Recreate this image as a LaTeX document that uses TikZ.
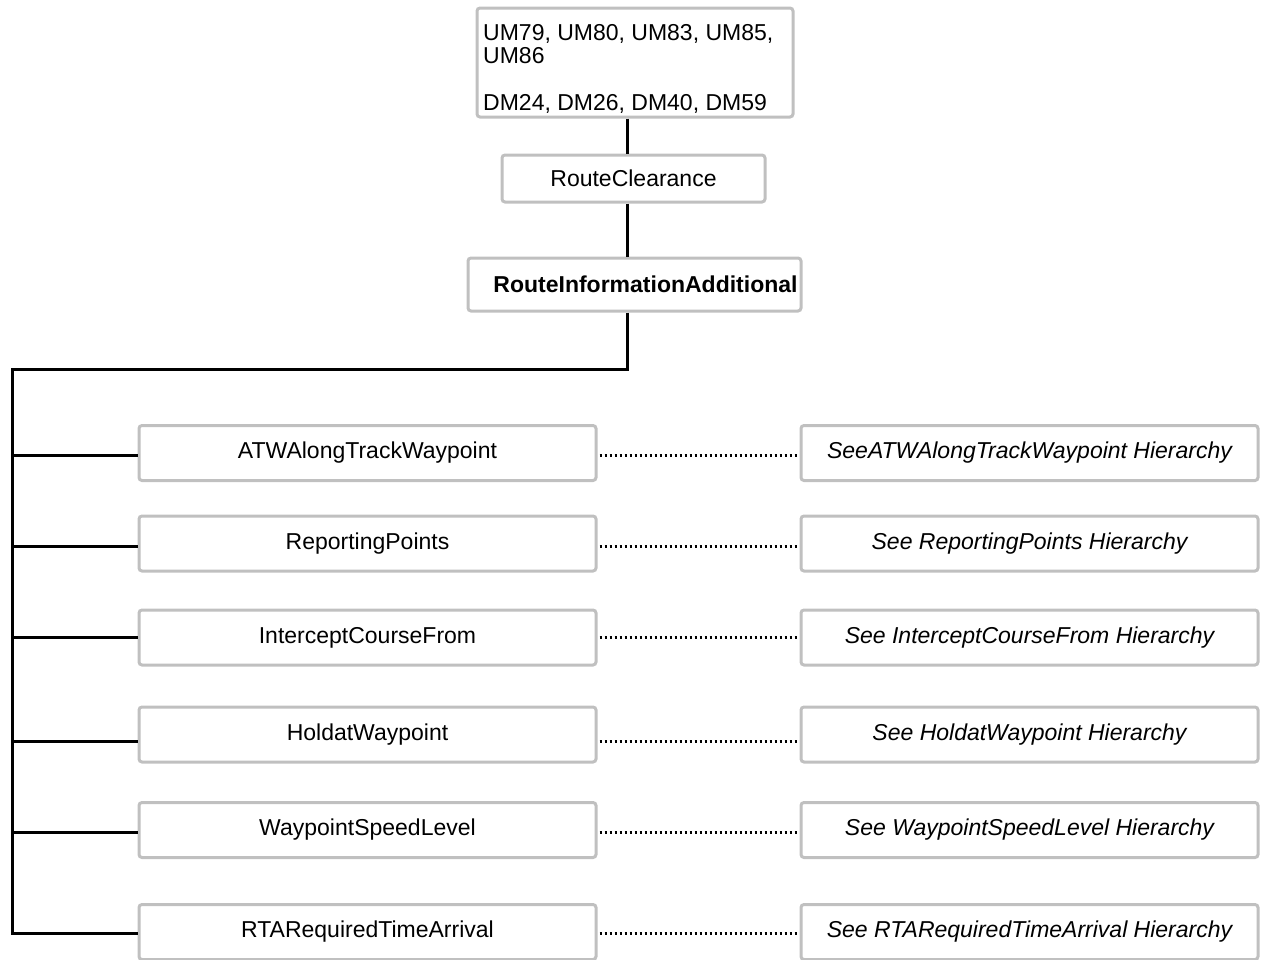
\documentclass[tikz,border=0pt]{standalone}
\usepackage{fontspec}
\setmainfont{Liberation Sans}
\definecolor{boxgray}{HTML}{C0C0C0}
\begin{document}
\begin{tikzpicture}[x=1pt,y=-1pt,
  box/.style={draw=boxgray, line width=3pt, rounded corners=3pt, fill=white,
    inner sep=0pt, font=\fontsize{23}{23.3}\selectfont},
  kid/.style={box, minimum width=457pt, minimum height=55pt},
  seeref/.style={kid, font=\fontsize{23}{23.3}\selectfont\itshape},
  tree/.style={line width=3pt, black},
  dots/.style={line width=3pt, black, dash pattern=on 2.7pt off 2.3pt}
]
\clip (0,0) rectangle (1261,959);

% message list, clearance and the additional-information record
\node[box, minimum width=316pt, minimum height=109pt] (top) at (635,62.5) {};
\node[anchor=north west, align=left, inner sep=0pt,
  font=\fontsize{23}{23.3}\selectfont] (toptext) at (483,24)
  {UM79, UM80, UM83, UM85,\\UM86\\[23.3pt]DM24, DM26, DM40, DM59};
\node[box, minimum width=263pt, minimum height=47pt] (rc) at (633.5,178.5) {RouteClearance};
\node[box, minimum width=333pt, minimum height=53pt,
  font=\fontsize{23}{23.3}\selectfont\bfseries] (ria) at (634.5,284.5)
  {\hspace*{22pt}RouteInformationAdditional};

% child records and their cross references
\node[kid] (atw)  at (367.5,453)   {ATWAlongTrackWaypoint};
\node[kid] (rep)  at (367.5,543.5) {ReportingPoints};
\node[kid] (icf)  at (367.5,637.5) {InterceptCourseFrom};
\node[kid] (hold) at (367.5,734.5) {HoldatWaypoint};
\node[kid] (wsl)  at (367.5,830)   {WaypointSpeedLevel};
\node[kid] (rta)  at (367.5,932)   {RTARequiredTimeArrival};

\node[seeref] (satw)  at (1029.5,453)   {SeeATWAlongTrackWaypoint Hierarchy};
\node[seeref] (srep)  at (1029.5,543.5) {See ReportingPoints Hierarchy};
\node[seeref] (sicf)  at (1029.5,637.5) {See InterceptCourseFrom Hierarchy};
\node[seeref] (shold) at (1029.5,734.5) {See HoldatWaypoint Hierarchy};
\node[seeref] (swsl)  at (1029.5,830)   {See WaypointSpeedLevel Hierarchy};
\node[seeref] (srta)  at (1029.5,932)   {See RTARequiredTimeArrival Hierarchy};

% routing points of the tree
\coordinate (trunk) at (627,0);
\coordinate (bend) at (627,369);
\coordinate (bus) at (12,369);
\coordinate (r1) at (0,455);
\coordinate (r2) at (0,546);
\coordinate (r3) at (0,637);
\coordinate (r4) at (0,741);
\coordinate (r5) at (0,832);
\coordinate (r6) at (0,933);

\draw[tree] (top.south -| trunk) -- (rc.north -| trunk);
\draw[tree] (rc.south -| trunk) -- (ria.north -| trunk);
\draw[tree] (ria.south -| trunk) -- (bend) -- (bus) -- (bus |- r6) -- (rta.west |- r6);
\draw[tree] (bus |- r1) -- (atw.west |- r1);
\draw[tree] (bus |- r2) -- (rep.west |- r2);
\draw[tree] (bus |- r3) -- (icf.west |- r3);
\draw[tree] (bus |- r4) -- (hold.west |- r4);
\draw[tree] (bus |- r5) -- (wsl.west |- r5);

\draw[dots] ([xshift=2pt]atw.east |- r1)  -- ([xshift=-3pt]satw.west |- r1);
\draw[dots] ([xshift=2pt]rep.east |- r2)  -- ([xshift=-3pt]srep.west |- r2);
\draw[dots] ([xshift=2pt]icf.east |- r3)  -- ([xshift=-3pt]sicf.west |- r3);
\draw[dots] ([xshift=2pt]hold.east |- r4) -- ([xshift=-3pt]shold.west |- r4);
\draw[dots] ([xshift=2pt]wsl.east |- r5)  -- ([xshift=-3pt]swsl.west |- r5);
\draw[dots] ([xshift=2pt]rta.east |- r6)  -- ([xshift=-3pt]srta.west |- r6);
\end{tikzpicture}
\end{document}
